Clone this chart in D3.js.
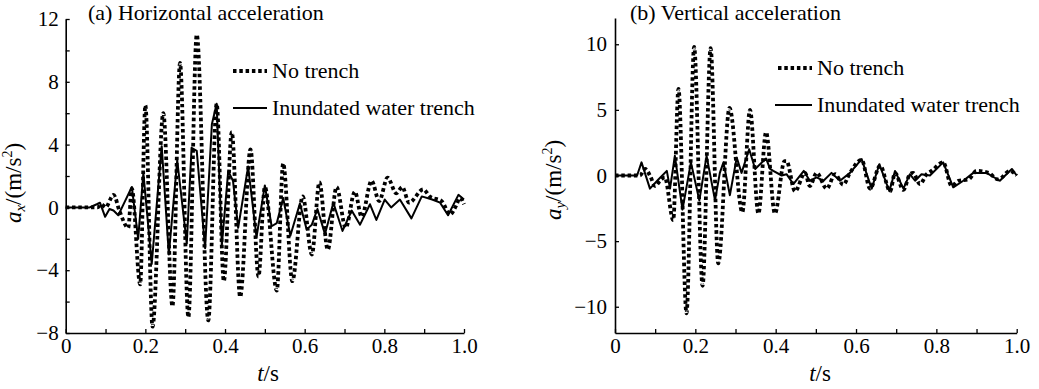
<!DOCTYPE html>
<html><head><meta charset="utf-8">
<script src="https://cdn.jsdelivr.net/npm/d3@7"></script>
<style>body{margin:0;background:#fff;}</style></head>
<body><svg id="c" width="1039" height="389"></svg>
<script>
// ---- Panel (a): horizontal acceleration ----
const tNoA = [0,0.08,0.09,0.1,0.12,0.136,0.157,0.166,0.187,0.2,0.218,0.245,0.268,0.287,0.308,0.329,0.358,0.379,0.397,0.417,0.438,0.464,0.484,0.5,0.53,0.546,0.569,0.595,0.618,0.637,0.658,0.68,0.703,0.726,0.743,0.768,0.787,0.808,0.83,0.845,0.862,0.898,0.914,0.944,0.965,0.98,0.99,1.0];
const noTrenchA = [0,0,0.2,0,0.8,-0.3,-1.3,1.2,-4.9,6.5,-7.6,6.0,-6.3,9.2,-7.0,11.0,-7.2,6.6,-4.7,4.8,-5.7,3.7,-4.4,1.3,-5.3,2.8,-4.7,0.7,-3.0,1.6,-2.7,1.3,-1.3,1.0,-0.6,1.7,0.4,1.9,0.9,1.3,0.3,1.15,0.7,0.4,-0.45,0.1,0.6,0.2];
const tInA = [0,0.06,0.078,0.086,0.099,0.11,0.12,0.132,0.149,0.166,0.182,0.195,0.216,0.241,0.259,0.28,0.304,0.316,0.329,0.35,0.367,0.379,0.392,0.408,0.42,0.433,0.458,0.479,0.5,0.517,0.53,0.546,0.564,0.588,0.605,0.618,0.632,0.651,0.672,0.695,0.718,0.739,0.764,0.78,0.801,0.817,0.839,0.868,0.894,0.92,0.94,0.96,0.986,1.0];
const trenchA = [0,0,0.2,0.3,-0.6,-0.1,-0.2,-0.5,0.4,1.3,-2.0,2.2,-3.6,3.9,-3.0,3.0,-2.3,3.8,3.6,-2.6,5.3,6.6,-2.4,2.3,1.7,-1.3,2.6,-1.9,1.4,-1.2,-1.0,0.6,-1.8,0.25,-1.4,-1.1,-0.1,-1.7,0.3,-1.5,-0.2,-1.1,0.2,-0.8,0.5,0.0,0.5,-0.7,0.7,0.5,0.3,-0.5,0.8,0.5];
const yTicksA = [-8,-6,-4,-2,0,2,4,6,8,10,12];

// ---- Panel (b): vertical acceleration ----
const tNoB = [0,0.062,0.075,0.087,0.1,0.112,0.124,0.145,0.158,0.178,0.197,0.218,0.238,0.257,0.285,0.317,0.336,0.357,0.376,0.398,0.422,0.427,0.448,0.473,0.485,0.502,0.527,0.548,0.568,0.585,0.614,0.635,0.66,0.685,0.697,0.718,0.734,0.742,0.759,0.776,0.788,0.817,0.838,0.855,0.88,0.9,0.93,0.954,0.983,1.0];
const noTrenchB = [0,0,0.5,0,-0.8,-0.4,-0.15,-3.4,6.6,-10.5,9.8,-8.4,9.7,-6.7,5.15,-2.8,5.0,-2.9,3.3,-2.9,1.1,1.1,-1.2,0.2,-0.8,0.2,-1.0,0.1,-0.7,0.2,1.2,-1.0,0.75,-1.2,0.2,-1.1,0.1,0.2,-0.65,0.1,0.35,1.0,-0.8,-0.4,-0.3,0.35,0.2,-0.3,0.35,0.0];
const tInB = [0,0.055,0.066,0.087,0.108,0.129,0.137,0.149,0.168,0.189,0.21,0.228,0.249,0.261,0.27,0.286,0.303,0.315,0.334,0.349,0.376,0.386,0.394,0.415,0.427,0.444,0.47,0.485,0.502,0.519,0.539,0.56,0.585,0.614,0.639,0.658,0.683,0.697,0.718,0.734,0.747,0.763,0.784,0.817,0.842,0.867,0.892,0.925,0.958,0.988,1.0];
const trenchB = [0,0,1.0,-1.0,-0.3,0.35,-1.0,1.5,-2.6,1.0,-1.9,1.5,-1.9,0.2,1.0,-1.5,1.36,0.2,2.0,0.5,1.3,0.5,0.35,0.0,0.1,-0.65,0.35,-0.4,-0.15,-0.4,0.2,-0.4,0.2,1.25,-1.0,0.86,-1.2,0.35,-1.0,0.1,-0.4,0.1,0.0,1.0,-0.9,-0.4,0.2,0.2,-0.4,0.5,0.0];
const yTicksB = [-10,-5,0,5,10];

const xTicks = [0,0.1,0.2,0.3,0.4,0.5,0.6,0.7,0.8,0.9,1.0];
const legendLabels = ["No trench","Inundated water trench"];

const FONT = "Liberation Serif";
const svg = d3.select("#c");

function txt(sel, size){ return sel.attr("font-family",FONT).attr("font-size",size); }

function panel(o){
  const x = d3.scaleLinear().domain([0,1]).range(o.xr);
  const y = d3.scaleLinear().domain(o.yd).range(o.yr);
  const g = svg.append("g");
  const xa = g.append("g").attr("transform",`translate(0,${o.yr[0]})`)
    .call(d3.axisBottom(x).tickValues(xTicks).tickSize(-4).tickSizeOuter(0).tickPadding(5)
      .tickFormat(d => (Math.round(d*10)%2===0) ? (d===0?"0":d3.format(".1f")(d)) : ""));
  const ya = g.append("g").attr("transform",`translate(${o.xr[0]},0)`)
    .call(d3.axisLeft(y).tickValues(o.yt).tickSize(-4).tickSizeOuter(0).tickPadding(o.pad)
      .tickFormat(d => (d % o.labStep === 0) ? d3.format("d")(d) : ""));
  [xa,ya].forEach(a=>{
    a.attr("font-family",FONT).attr("font-size",21);
    a.select(".domain").attr("stroke","#000").attr("stroke-width",1.6);
    a.selectAll(".tick line").attr("stroke","#000").attr("stroke-width",1.3);
    a.selectAll(".tick text").filter(function(){return this.textContent==="";}).remove();
    txt(a.selectAll("text"),21).attr("fill","#000");
  });
  const lineDot = d3.line().x(d=>x(d[0])).y(d=>y(d[1])).curve(d3.curveMonotoneX);
  const lineSol = d3.line().x(d=>x(d[0])).y(d=>y(d[1]));
  g.append("path").datum(o.tIn.map((t,i)=>[t,o.vIn[i]]))
    .attr("d",lineSol).attr("fill","none").attr("stroke","#000").attr("stroke-width",2).attr("stroke-linejoin","round");
  g.append("path").datum(o.tNo.map((t,i)=>[t,o.vNo[i]]))
    .attr("d",lineDot).attr("fill","none").attr("stroke","#000").attr("stroke-width",3.8).attr("stroke-dasharray","3.5,2.8");
  txt(g.append("text").attr("x",o.titleX).attr("y",20),22).text(o.title);
  const lg = g.append("g");
  lg.append("line").attr("x1",o.legX[0]).attr("x2",o.legX[1]).attr("y1",o.legY[0]).attr("y2",o.legY[0])
    .attr("stroke","#000").attr("stroke-width",3.8).attr("stroke-dasharray","3.5,2.8");
  lg.append("line").attr("x1",o.legX2[0]).attr("x2",o.legX[1]).attr("y1",o.legY[1]).attr("y2",o.legY[1])
    .attr("stroke","#000").attr("stroke-width",2);
  txt(lg.append("text").attr("x",o.legX[1]+5).attr("y",o.legY[0]+7),22).text(legendLabels[0]);
  txt(lg.append("text").attr("x",o.legX[1]+5).attr("y",o.legY[1]+7),22).text(legendLabels[1]);
  const yl = txt(g.append("text").attr("transform",`translate(${o.ylX},${o.ylY}) rotate(-90)`)
    .attr("text-anchor","middle"),23);
  yl.append("tspan").attr("font-style","italic").text("a");
  yl.append("tspan").attr("font-style","italic").attr("font-size",15).attr("dy",4).text(o.sub);
  yl.append("tspan").attr("dy",-4).text("/(m/s");
  yl.append("tspan").attr("font-size",14).attr("dy",-9).text("2");
  yl.append("tspan").attr("dy",9).text(")");
  const xl = txt(g.append("text").attr("x",o.xlX).attr("y",381).attr("text-anchor","middle"),23);
  xl.append("tspan").attr("font-style","italic").text("t");
  xl.append("tspan").text("/s");
}

panel({xr:[65.7,464], yd:[-8,12], yr:[333,19], yt:yTicksA, labStep:4, pad:7,
  tNo:tNoA, vNo:noTrenchA, tIn:tInA, vIn:trenchA,
  title:"(a) Horizontal acceleration", titleX:88,
  legX:[233,267], legX2:[233], legY:[71,108], ylX:21, ylY:183, sub:"x", xlX:268});
panel({xr:[615,1016.7], yd:[-12,12], yr:[333,18], yt:yTicksB, labStep:5, pad:8,
  tNo:tNoB, vNo:noTrenchB, tIn:tInB, vIn:trenchB,
  title:"(b) Vertical acceleration", titleX:630,
  legX:[778,812], legX2:[775], legY:[68,105], ylX:561, ylY:180, sub:"y", xlX:820});
</script></body></html>
